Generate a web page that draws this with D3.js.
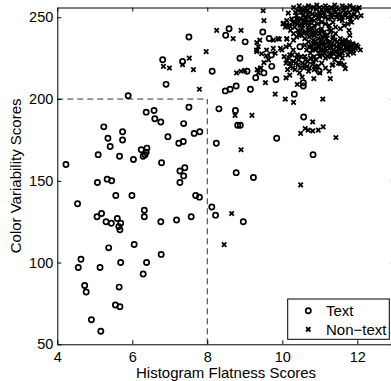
<!DOCTYPE html>
<html>
<head>
<meta charset="utf-8">
<script src="https://cdn.jsdelivr.net/npm/d3@7"></script>
<style>
  body { margin: 0; background: #fff; }
  svg { display: block; }
  text { font-family: "Liberation Sans", Arial, sans-serif; fill: #000; }
</style>
</head>
<body>
<div id="chart"></div>
<script>
// tick values and axis titles
const xTicks = [4, 6, 8, 10, 12];
const yTicks = [50, 100, 150, 200, 250];
const xTitle = "Histogram Flatness Scores";
const yTitle = "Color Variability Scores";
const seriesNames = ["Text", "Non\u2212text"];
// threshold guide (dashed box corner)
const threshold = [8, 200];

// Text samples: [flatness, color variability]
const textPoints = [
  [4.23,160],[5.89,202],[6.81,224],[7.34,223],[7.51,238],[6.90,209],[6.37,192],[6.58,193],
  [6.60,188],[6.76,186],[7.51,195],[5.24,183],[5.35,176],[5.41,171],[5.74,180],[5.74,175],
  [5.09,166],[5.66,165],[6.03,163],[6.24,169],[6.39,170],[6.37,167.5],[6.29,165],[6.34,166],
  [6.95,177],[6.78,161],[7.37,185],[7.24,173],[7.36,174],[7.65,179],[7.80,180],[7.40,158],
  [7.27,156],[7.37,153],[7.27,149],[5.07,149],[5.33,151],[5.45,150],[5.56,141],[5.99,141],
  [7.69,141],[7.79,140],[4.54,136],[5.06,128],[5.18,130],[5.30,125],[5.44,124],[5.60,127],
  [5.64,122],[5.69,124],[5.67,120],[6.32,132],[6.32,128],[6.76,125],[7.18,126],[7.57,128],
  [6.05,111],[5.37,109],[4.63,102],[4.56,97],[5.14,97],[5.69,100],[6.38,100],[6.77,105],
  [6.29,93],[4.73,86],[4.77,82],[5.65,85],[5.55,74],[5.67,73],[4.91,65],[5.16,58],
  [8.58,243],[8.49,239],[9.01,235],[9.48,241],[9.65,237],[8.87,225],[8.13,217],[9.06,217],
  [9.29,213],[9.51,216],[9.72,220],[9.83,212],[8.48,205],[8.61,206],[8.77,208],[9.15,206],
  [10.32,203],[10.56,210],[10.56,208],[10.47,232],[10.98,217],[8.31,194],[8.75,193],[8.81,184],
  [8.88,184],[10.57,189],[8.24,173],[9.85,176],[10.82,166],[8.77,155],[9.23,152],[8.12,134],
  [8.22,129],[8.96,125],[9.71,227]
];

// Non-text samples: [flatness, color variability]
const nonTextPoints = [
  // scattered
  [6.83,220],[6.99,219],[7.34,221],[7.52,225],[7.63,218],[7.79,206],[7.97,229],[8.25,242],
  [8.69,237],[8.90,242],[9.49,254],[9.51,248],[8.78,216],[8.90,217],[9.00,217.5],[9.81,203],
  [10.08,200],[10.30,198],[11.08,200],[8.74,190],[9.19,190],[8.90,169],[10.49,179],[10.61,182],
  [10.69,181],[10.81,180.5],[10.96,181],[11.09,183],[10.81,186],[11.43,176.5],[10.49,147.5],
  [8.65,130],[8.45,111],[9.55,210],
  // stream towards the cluster
  [9.32,234.6],[9.36,232],[9.32,229],[9.45,227.7],[9.58,230],[9.57,226.4],[9.63,224],[9.51,222.3],
  [9.42,219],[9.36,216],[9.76,236],[9.92,236.7],[10.12,236.7],[9.99,230],[10.19,233],[10.29,230],
  [10.16,252.6],[10.03,246.4],[10.12,245.4],[10.21,244.4],[9.76,231],[9.81,228],[9.33,218],[9.43,219],
  [9.31,230],[9.40,236],
  // cluster, top band
  [10.35,253],[10.42,249],[10.48,255],[10.55,251],[10.6,247],[10.65,254],[10.7,250],[10.76,256],
  [10.8,252],[10.85,248],[10.9,255],[10.95,250],[11.0,253],[11.05,247],[11.1,256],[11.12,251],
  [11.18,254],[11.22,249],[11.28,252],[11.3,256],[11.35,247],[11.4,253],[11.45,250],[11.5,255],
  [11.55,252],[11.6,248],[11.62,254],[11.68,251],[11.72,256],[11.78,253],[11.82,249],[11.88,255],
  [11.92,252],[12.0,254],[12.05,256],[10.5,246],[10.72,245],[10.95,246],[11.25,245],[11.75,246],
  [12.1,251],[10.3,256],[10.6,256],[11.0,256],[11.45,256],
  [10.38,251],[10.52,253],[10.62,250],[10.68,252],[10.78,249],[10.88,251],[10.98,249],[11.02,251],
  [11.08,253],[11.15,250],[11.25,254],[11.32,250],[11.38,255],[11.48,252],[11.58,250],[11.7,253],
  [11.85,251],[11.95,255],[10.58,254],[10.82,256],[11.2,256],[11.65,256],[11.9,256],
  [10.45,257],[10.7,257],[10.92,257.5],[11.15,257],[11.4,257.5],[11.6,257],[11.8,257],
  [10.42,254],[10.74,253],[10.92,252],[11.05,254.5],[11.35,251.5],[11.52,249],[11.75,250],[11.98,250],
  [10.02,246],[10.08,244],[10.12,248],[10.18,245],[10.22,242],[10.28,247],[10.33,244],[10.38,249],
  [10.42,242],[10.47,245],[10.53,243],[10.58,248],[10.63,241],[10.68,244],[10.74,247],[10.8,243],
  [11.05,243],[11.15,246],[11.3,242],[11.42,244],[11.55,243],[11.65,245],[11.78,242],[11.85,247],
  [10.4,246],[10.55,245],[10.65,247],[10.25,249],[10.35,246.5],[10.5,248.5],[10.85,245],
  // cluster, middle band
  [10.3,240],[10.38,238],[10.45,241],[10.52,239],[10.6,237],[10.66,240],[10.72,238],[10.8,241],
  [10.86,239],[10.92,242],[11.0,240],[11.06,238],[11.12,241],[11.2,239],[11.28,241],[11.35,238],
  [11.42,240],[11.8,239],[9.88,237],[10.12,237],[10.3,236],
  [10.45,239],[10.55,241],[10.7,242],[10.78,239],[10.9,240],[11.02,242],[11.15,239],[11.25,243],
  [10.6,233],[10.65,230],[10.7,235],[10.75,228],[10.78,232],[10.83,236],[10.88,230],[10.92,234],
  [10.97,228],[11.0,232],[11.05,236],[11.08,230],[11.12,233],[11.17,229],[11.2,235],[11.25,231],
  [11.28,228],[11.32,234],[11.36,230],[11.4,236],[11.44,232],[11.48,229],[11.52,234],[11.56,231],
  [11.6,228],[11.64,233],[11.68,236],[11.72,230],[11.76,233],[11.8,229],[11.85,232],[11.9,230],
  [11.95,231],[12.02,232],[12.08,230],[11.0,226],[11.15,225],[11.3,226],[11.45,226],[11.6,225],
  [11.75,227],[11.9,228],[11.5,222],[11.65,221],[10.95,237],[11.35,237],[11.55,237],
  [9.95,231],[10.1,232],
  [10.72,232],[10.82,234],[10.9,231],[10.95,233],[11.02,230],[11.1,235],[11.15,231],[11.22,233],
  [11.3,232],[11.38,233],[11.42,229],[11.5,231],[11.58,235],[11.62,230],[11.7,232],[11.78,235],
  [11.82,231],[11.88,234],[11.98,233],[10.85,226],[11.08,227],[11.22,226],[11.4,224],[11.55,227],
  [10.88,235],[11.04,234],[11.18,237],[11.27,235],[11.46,235],[11.54,233],[11.66,234],[11.74,231],
  [10.8,230],[11.12,228],[11.34,228],[11.52,228],
  // cluster, lower band
  [10.05,226],[10.1,222],[10.14,218],[10.18,225],[10.22,220],[10.26,227],[10.3,223],[10.34,218],
  [10.38,225],[10.42,221],[10.46,216],[10.5,226],[10.54,222],[10.58,219],[10.62,224],[10.66,220],
  [10.7,217],[10.75,225],[10.8,221],[10.85,218],[10.9,224],[10.95,220],[11.0,216],[11.05,222],
  [11.15,219],[11.25,217],[11.35,221],[10.2,214.6],[10.53,213.5],[10.84,212.5],[11.28,212.5],
  [11.68,218.6],[11.33,220.7],[11.55,221.7],[10.4,209],[10.1,213],
  [10.12,224],[10.2,222],[10.28,219],[10.36,222],[10.44,224],[10.48,219],[10.6,221],[10.68,223],
  [10.72,219],[10.82,223],[10.88,220],[10.4,227],[10.6,226],[10.2,227]
];

const width = 391, height = 381;
const margin = { top: 7.5, left: 57.3, bottom: 36.7, right: -3.8 };
const w = width - margin.left - margin.right;
const h = height - margin.top - margin.bottom;

const svg = d3.select("#chart").append("svg")
  .attr("width", width)
  .attr("height", height);

const x = d3.scaleLinear().domain([4, 13]).range([0, w]);
const y = d3.scaleLinear().domain([50, 256]).range([h, 0]);

const g = svg.append("g")
  .attr("transform", `translate(${margin.left},${margin.top})`);

// dashed threshold lines
const dashed = pts => g.append("path")
  .attr("fill", "none")
  .attr("stroke", "#333")
  .attr("stroke-width", 1)
  .attr("stroke-dasharray", "6,4")
  .attr("d", d3.line()(pts));
dashed([[x(4), y(threshold[1])], [x(threshold[0]), y(threshold[1])]]);
dashed([[x(threshold[0]), y(50)], [x(threshold[0]), y(threshold[1])]]);

const cross = "M-2.2,-2.2L2.2,2.2M-2.2,2.2L2.2,-2.2";

// text points (circles)
g.append("g").selectAll("circle")
  .data(textPoints)
  .join("circle")
  .attr("cx", d => x(d[0]))
  .attr("cy", d => y(d[1]))
  .attr("r", 2.6)
  .attr("fill", "none")
  .attr("stroke", "#000")
  .attr("stroke-width", 1.7);

// non-text points (crosses)
g.append("g").selectAll("path")
  .data(nonTextPoints)
  .join("path")
  .attr("transform", d => `translate(${x(d[0])},${y(d[1])})`)
  .attr("d", cross)
  .attr("fill", "none")
  .attr("stroke", "#000")
  .attr("stroke-width", 1.8);

// axes
const axisFont = g => g.selectAll("text")
  .style("font-size", "14.5px")
  .style("font-family", '"Liberation Sans", Arial, sans-serif')
  .attr("fill", "#000");

g.append("g")
  .attr("transform", `translate(0,${h})`)
  .call(d3.axisBottom(x).tickValues(xTicks).tickSizeInner(-4).tickSizeOuter(0).tickPadding(7))
  .call(axisFont);

g.append("g")
  .call(d3.axisTop(x).tickValues(xTicks).tickSizeInner(-4).tickSizeOuter(0).tickFormat(""));

g.append("g")
  .call(d3.axisLeft(y).tickValues(yTicks).tickSizeInner(-4).tickSizeOuter(0).tickPadding(4))
  .call(axisFont);

g.append("g")
  .attr("transform", `translate(${w},0)`)
  .call(d3.axisRight(y).tickValues(yTicks).tickSizeInner(-4).tickSizeOuter(0).tickFormat(""));

g.selectAll(".domain").attr("stroke", "#000").attr("stroke-width", 1);
g.selectAll(".tick line").attr("stroke", "#000");

// axis titles
svg.append("text")
  .attr("x", margin.left + w / 2)
  .attr("y", 378)
  .attr("text-anchor", "middle")
  .style("font-size", "15px")
  .text(xTitle);

svg.append("text")
  .attr("transform", `translate(20.5,${margin.top + h / 2}) rotate(-90)`)
  .attr("text-anchor", "middle")
  .style("font-size", "15px")
  .text(yTitle);

// legend
const legend = svg.append("g");
legend.append("rect")
  .attr("x", 287.7)
  .attr("y", 299)
  .attr("width", 101.6)
  .attr("height", 40.3)
  .attr("fill", "#fff")
  .attr("stroke", "#000")
  .attr("stroke-width", 1);

const rows = legend.selectAll("g.row")
  .data(seriesNames)
  .join("g")
  .attr("class", "row")
  .attr("transform", (d, i) => `translate(308.3,${310.7 + i * 18.6})`);

rows.filter((d, i) => i === 0).append("circle")
  .attr("r", 2.6)
  .attr("fill", "none")
  .attr("stroke", "#000")
  .attr("stroke-width", 1.7);

rows.filter((d, i) => i === 1).append("path")
  .attr("d", cross)
  .attr("fill", "none")
  .attr("stroke", "#000")
  .attr("stroke-width", 1.8);

rows.append("text")
  .attr("x", 17.7)
  .attr("dy", "0.35em")
  .style("font-size", "15px")
  .text(d => d);
</script>
</body>
</html>
